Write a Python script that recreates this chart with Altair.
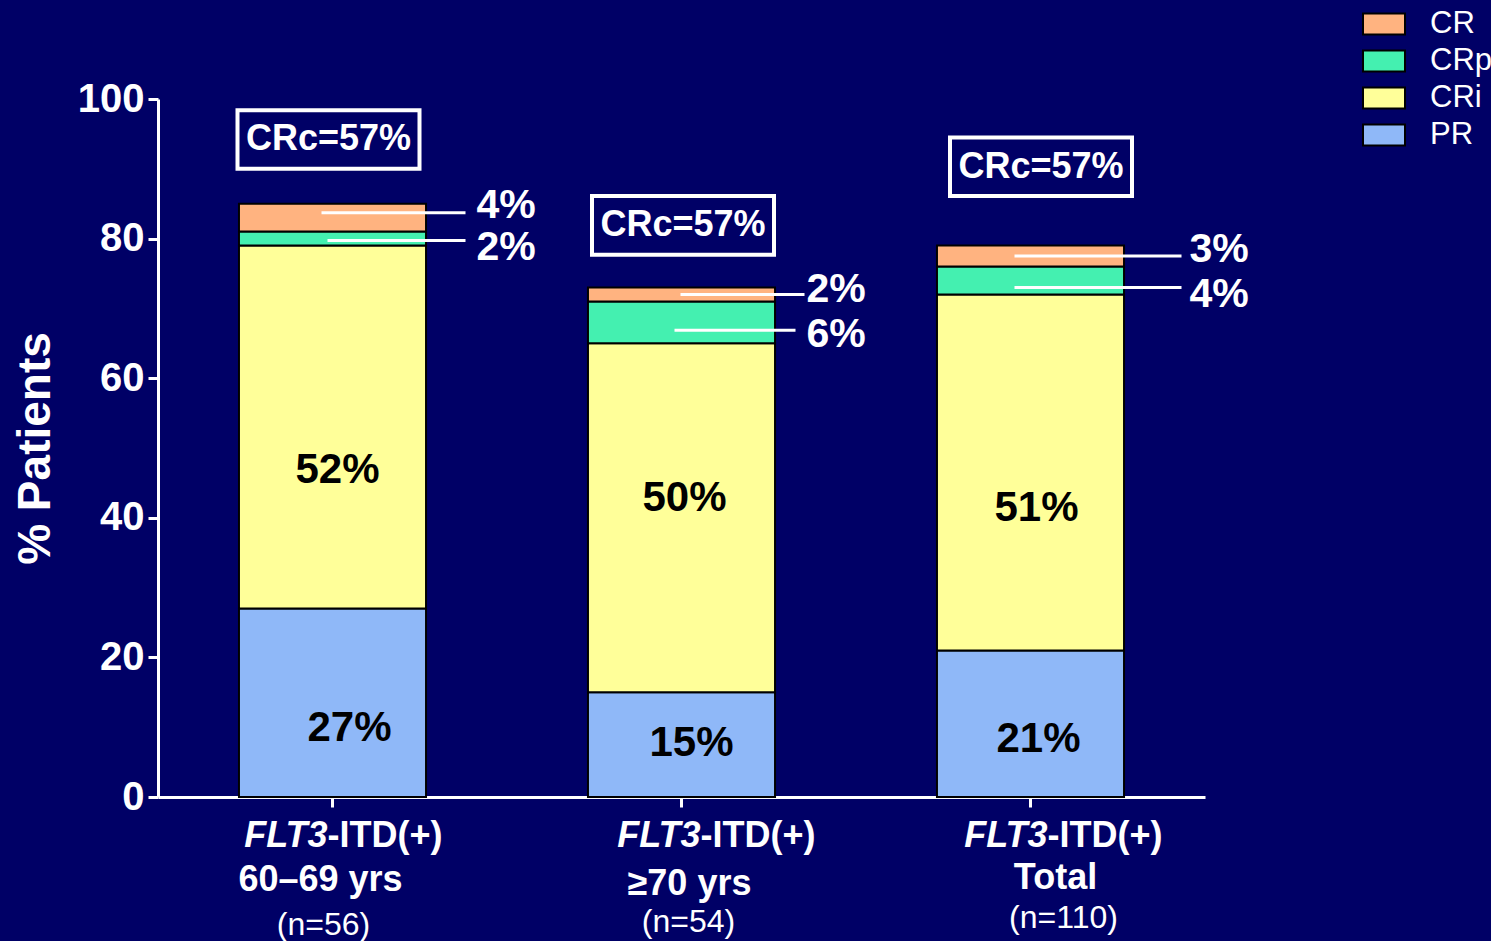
import altair as alt
import pandas as pd

# ---- data -------------------------------------------------------------
groups = ["60–69 yrs", "≥70 yrs", "Total"]
group_n = ["(n=56)", "(n=54)", "(n=110)"]
responses = ["CR", "CRp", "CRi", "PR"]          # legend order (top to bottom)
stack_order = ["PR", "CRi", "CRp", "CR"]        # bottom to top of each bar
colors = ["#FFB380", "#44F0B0", "#FFFF99", "#8FB8F8"]

pr_vals = [27, 15, 21]
cri_vals = [52, 50, 51]
crp_vals = [2, 6, 4]
cr_vals = [4, 2, 3]
crc_vals = [57, 57, 57]

# ---- layout (offsets in px from each bar's centre / label anchor) -----
FONT = "Liberation Sans"
BG = "#000066"
# in-bar labels: (dx, dy) relative to segment midpoint
INNER = {("CRi", 0): (5, 43), ("PR", 0): (17, 25),
         ("CRi", 1): (3, -20), ("PR", 1): (10, -2),
         ("CRi", 2): (6, 36), ("PR", 2): (8, 15)}
# side labels: text dx, text dy, rule start, rule end, rule dy
SIDE = {("CR", 0): (144, -12, -11, 133, -5), ("CRp", 0): (144, 9, -5, 133, 2),
        ("CR", 1): (125, -4, -1, 123, 0), ("CRp", 1): (125, 13, -7, 114, 8),
        ("CR", 2): (159, -6, -16, 151, 0), ("CRp", 2): (159, 15, -16, 151, 7)}
BOX_BOTTOM = [90.0, 77.7, 86.1]   # in axis units
BOX_H = 8.4
BOX_DX = [-4, 1.5, 10.5]          # box centre relative to bar centre
BOX_W = 182
# x-axis label lines: (dx of FLT3 split, line-2 dx, line-3 dx, line-2 y, line-3 y)
XLAB = [(-5, -12, -9, 781, 826), (19, 8, 7, 785, 823), (17, 25, 33, 779, 819)]
XLAB_Y1 = 737

# ---- build table ------------------------------------------------------
series = {"PR": pr_vals, "CRi": cri_vals, "CRp": crp_vals, "CR": cr_vals}
rows = []
for gi, g in enumerate(groups):
    lo = 0
    for r in stack_order:
        v = series[r][gi]
        rows.append({"group": g, "gi": gi, "resp": r, "value": v, "lo": lo,
                     "hi": lo + v, "mid": lo + v / 2, "label": f"{v}%"})
        lo += v
df = pd.DataFrame(rows)

boxes = pd.DataFrame({"group": groups,
                      "lo": BOX_BOTTOM,
                      "hi": [b + BOX_H for b in BOX_BOTTOM],
                      "mid": [b + BOX_H / 2 for b in BOX_BOTTOM],
                      "text": [f"CRc={v}%" for v in crc_vals]})
xlabels = pd.DataFrame({"group": groups, "line2": groups, "line3": group_n})

xscale = alt.Scale(domain=groups, paddingInner=0.464, paddingOuter=0.232)
yscale = alt.Scale(domain=[0, 100], nice=False)
X = alt.X("group:N", scale=xscale, sort=groups,
          axis=alt.Axis(labels=False, title=None, ticks=True, tickSize=10,
                        tickWidth=3, tickColor="white", domainColor="white",
                        domainWidth=3, grid=False))
Y = alt.Y("hi:Q", scale=yscale,
          axis=alt.Axis(values=[0, 20, 40, 60, 80, 100], title="% Patients",
                        titleFont=FONT, titleFontSize=46, titleFontWeight="bold",
                        titleColor="white", titlePadding=18,
                        labelFont=FONT, labelFontSize=40, labelFontWeight="bold",
                        labelColor="white", labelPadding=4, tickSize=10,
                        tickWidth=3, tickColor="white", domainColor="white",
                        domainWidth=3, grid=False))

bars = alt.Chart(df).mark_bar(stroke="black", strokeWidth=2).encode(
    x=X, y=Y, y2="lo:Q",
    color=alt.Color("resp:N", scale=alt.Scale(domain=responses, range=colors),
                    legend=alt.Legend(title=None, orient="none", legendX=1204,
                                      legendY=-97, symbolType="M-1,-0.5H1V0.5H-1Z",
                                      symbolSize=1764, symbolStrokeColor="black",
                                      symbolStrokeWidth=2, symbolOpacity=1,
                                      labelFont=FONT, labelFontSize=31,
                                      labelColor="white", labelOffset=24,
                                      rowPadding=-1, padding=0)),
)

layers = [bars]
xs = alt.X("group:N", scale=xscale, sort=groups)
ys = alt.Y("mid:Q", scale=yscale)

for (r, gi), (dx, dy) in INNER.items():
    layers.append(
        alt.Chart(df).transform_filter(
            (alt.datum.resp == r) & (alt.datum.gi == gi)
        ).mark_text(font=FONT, fontSize=42, fontWeight="bold", color="black",
                    dx=dx, dy=dy).encode(x=xs, y=ys, text="label:N"))

for (r, gi), (tdx, tdy, r0, r1, rdy) in SIDE.items():
    sub = alt.Chart(df).transform_filter((alt.datum.resp == r) & (alt.datum.gi == gi))
    layers.append(sub.mark_rule(color="white", strokeWidth=3, xOffset=r0,
                                x2Offset=r1, yOffset=rdy).encode(
        x=xs, x2=alt.X2("group:N"), y=ys))
    layers.append(sub.mark_text(font=FONT, fontSize=41, fontWeight="bold",
                                color="white", align="left", dx=tdx, dy=tdy)
                  .encode(x=xs, y=ys, text="label:N"))

for gi, g in enumerate(groups):
    sub = alt.Chart(boxes).transform_filter(alt.datum.group == g)
    layers.append(sub.mark_bar(fill=BG, stroke="white", strokeWidth=4,
                               width=BOX_W, xOffset=BOX_DX[gi]).encode(
        x=xs, y=alt.Y("lo:Q", scale=yscale), y2="hi:Q"))
    layers.append(sub.mark_text(font=FONT, fontSize=36, fontWeight="bold",
                                color="white", dx=BOX_DX[gi]).encode(
        x=xs, y=alt.Y("mid:Q", scale=yscale), text="text:N"))

for gi, (split, d2, d3, y2, y3) in enumerate(XLAB):
    sub = alt.Chart(xlabels).transform_filter(alt.datum.group == groups[gi])
    layers.append(sub.mark_text(font=FONT, fontSize=36, fontWeight="bold",
                                fontStyle="italic", color="white", align="right",
                                dx=split).encode(x=xs, y=alt.value(XLAB_Y1),
                                                 text=alt.value("FLT3")))
    layers.append(sub.mark_text(font=FONT, fontSize=36, fontWeight="bold",
                                color="white", align="left", dx=split).encode(
        x=xs, y=alt.value(XLAB_Y1), text=alt.value("-ITD(+)")))
    layers.append(sub.mark_text(font=FONT, fontSize=36, fontWeight="bold",
                                color="white", dx=d2).encode(
        x=xs, y=alt.value(y2), text="line2:N"))
    layers.append(sub.mark_text(font=FONT, fontSize=32, color="white",
                                dx=d3).encode(
        x=xs, y=alt.value(y3), text="line3:N"))

chart = alt.layer(*layers).properties(
    width=1047, height=698, background=BG,
    padding={"left": 158, "top": 99, "right": 286, "bottom": 144},
    autosize="none",
).configure_view(stroke=None)

chart.save("out.html", embed_options={"renderer": "svg", "actions": False})
